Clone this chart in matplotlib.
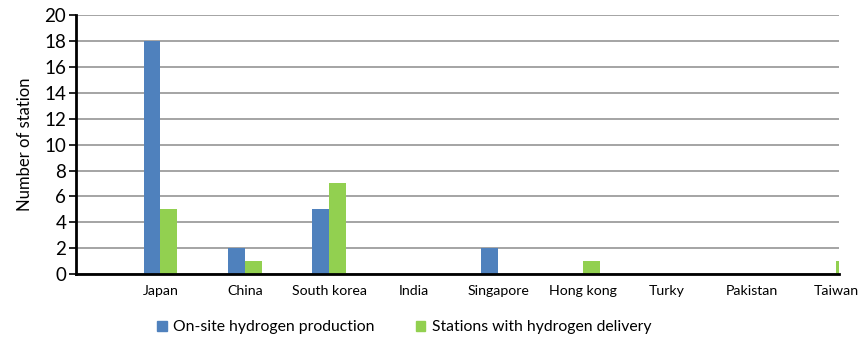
import numpy as np
import matplotlib
matplotlib.use("Agg")
import matplotlib.pyplot as plt
from matplotlib.patches import Patch

plt.rcParams['font.family'] = ['Lato', 'DejaVu Sans']

countries = ["Japan", "China", "South korea", "India", "Singapore",
             "Hong kong", "Turky", "Pakistan", "Taiwan"]
onsite = [18, 2, 5, 0, 2, 0, 0, 0, 0]
delivery = [5, 1, 7, 0, 0, 1, 0, 0, 1]

blue = "#4F81BD"
green = "#92D050"

fig = plt.figure(figsize=(8.6, 3.38), dpi=100)
ax = fig.add_axes([0.0884, 0.1893, 0.8872, 0.7654])

x = np.arange(len(countries))
w = 0.2
ax.bar(x - w / 2, onsite, w, color=blue, zorder=3)
ax.bar(x + w / 2, delivery, w, color=green, zorder=3)

ax.set_xlim(-1.0, 8.035)
ax.set_ylim(0, 20)
ax.set_yticks(range(0, 21, 2))
ax.set_xticks(x)
ax.set_xticklabels(countries, fontsize=10.2)
ax.tick_params(axis='x', length=0, pad=8)
ax.tick_params(axis='y', length=5, width=1.2, labelsize=13.5, pad=2)
for lbl in ax.get_xticklabels():
    lbl.set_clip_on(False)

ax.yaxis.grid(True, color="#8c8c8c", linewidth=1.1, zorder=0)
ax.set_axisbelow(True)
for side in ("top", "right"):
    ax.spines[side].set_visible(False)
ax.spines["left"].set_linewidth(2)
ax.spines["bottom"].set_linewidth(2)
ax.spines["bottom"].set_zorder(4)

ax.set_ylabel("Number of station", fontsize=12, labelpad=8)

handles = [Patch(color=blue), Patch(color=green)]
fig.legend(handles, ["On-site hydrogen production", "Stations with hydrogen delivery"],
           loc="center", bbox_to_anchor=(0.47, 0.032), ncol=2, frameon=False,
           fontsize=11.3, handlelength=0.62, handleheight=0.62, handletextpad=0.4,
           columnspacing=2.6)

fig.savefig("out.png", dpi=100)
